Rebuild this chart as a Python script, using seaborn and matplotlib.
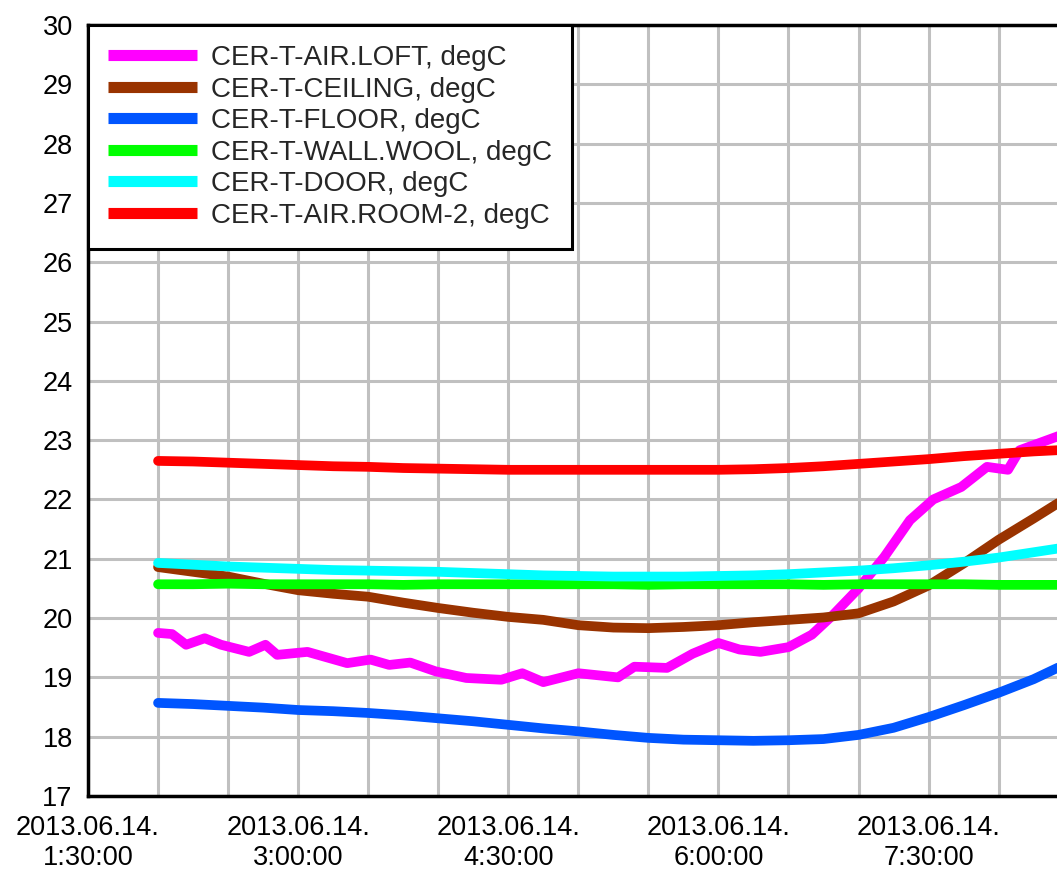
import numpy as np
import pandas as pd
import matplotlib
matplotlib.use("Agg")
import matplotlib.pyplot as plt
import matplotlib.dates as mdates
import seaborn as sns

sns.set_style("white")
plt.rcParams['font.family'] = ['Liberation Sans', 'DejaVu Sans']

DIA = "2013-06-14 "

# Tiempos comunes (cada 15 min)
horas = ["2:00", "2:15", "2:30", "2:45", "3:00", "3:15", "3:30", "3:45", "4:00",
         "4:15", "4:30", "4:45", "5:00", "5:15", "5:30", "5:45", "6:00", "6:15",
         "6:30", "6:45", "7:00", "7:15", "7:30", "7:45", "8:00", "8:15", "8:30"]

techo = [20.86, 20.78, 20.70, 20.58, 20.47, 20.41, 20.36, 20.26, 20.17,
         20.09, 20.02, 19.97, 19.88, 19.84, 19.83, 19.85, 19.88, 19.93,
         19.97, 20.01, 20.08, 20.28, 20.55, 20.92, 21.32, 21.68, 22.05]
suelo = [18.57, 18.55, 18.52, 18.49, 18.45, 18.43, 18.40, 18.36, 18.31,
         18.26, 18.20, 18.14, 18.09, 18.03, 17.98, 17.95, 17.94, 17.93,
         17.94, 17.96, 18.03, 18.15, 18.33, 18.53, 18.74, 18.97, 19.25]
pared = [20.57, 20.57, 20.58, 20.57, 20.57, 20.57, 20.57, 20.56, 20.57,
         20.57, 20.57, 20.57, 20.57, 20.57, 20.56, 20.57, 20.57, 20.57,
         20.57, 20.56, 20.57, 20.57, 20.57, 20.57, 20.56, 20.56, 20.56]
puerta = [20.93, 20.90, 20.87, 20.85, 20.83, 20.81, 20.80, 20.79, 20.78,
          20.76, 20.74, 20.72, 20.71, 20.70, 20.70, 20.70, 20.71, 20.72,
          20.74, 20.77, 20.80, 20.84, 20.89, 20.95, 21.02, 21.11, 21.20]
sala = [22.65, 22.64, 22.62, 22.60, 22.58, 22.56, 22.55, 22.53, 22.52,
        22.51, 22.50, 22.50, 22.50, 22.50, 22.50, 22.50, 22.50, 22.51,
        22.53, 22.56, 22.60, 22.64, 22.68, 22.73, 22.77, 22.81, 22.84]

# El desván tiene más oscilaciones
horas_desvan = ["2:00", "2:06", "2:12", "2:20", "2:27", "2:39", "2:46", "2:51",
                "3:04", "3:21", "3:31", "3:39", "3:48", "3:59", "4:12", "4:27",
                "4:36", "4:45", "5:00", "5:17", "5:24", "5:38", "5:49", "6:00",
                "6:09", "6:18", "6:30", "6:40", "6:49", "7:00", "7:11", "7:22",
                "7:32", "7:44", "7:55", "8:04", "8:09", "8:25", "8:30"]
desvan = [19.75, 19.73, 19.55, 19.66, 19.55, 19.43, 19.55, 19.38,
          19.43, 19.24, 19.30, 19.21, 19.25, 19.10, 18.99, 18.96,
          19.07, 18.92, 19.07, 19.00, 19.18, 19.16, 19.40, 19.58,
          19.47, 19.43, 19.51, 19.72, 20.05, 20.50, 21.03, 21.65,
          22.00, 22.21, 22.55, 22.50, 22.83, 23.06, 23.15]

series = [
    ("CER-T-AIR.LOFT, degC", horas_desvan, desvan, "#ff00ff"),
    ("CER-T-CEILING, degC", horas, techo, "#993300"),
    ("CER-T-FLOOR, degC", horas, suelo, "#0055ff"),
    ("CER-T-WALL.WOOL, degC", horas, pared, "#00ff00"),
    ("CER-T-DOOR, degC", horas, puerta, "#00ffff"),
    ("CER-T-AIR.ROOM-2, degC", horas, sala, "#ff0000"),
]


def a_fecha(lista):
    return pd.to_datetime([DIA + h for h in lista])


def etiqueta(x, pos):
    d = mdates.num2date(x)
    return f"{d:%Y.%m.%d.}\n{d.hour}:{d:%M:%S}"


fig = plt.figure(figsize=(10.57, 8.71), dpi=100)
ax = fig.add_axes([88 / 1057, 75 / 871, 969 / 1057, 771 / 871])

for nombre, hh, valores, color in series:
    sns.lineplot(x=a_fecha(hh), y=valores, color=color, lw=7, label=nombre, ax=ax)

ax.set_xlim(pd.Timestamp(DIA + "1:30"), pd.Timestamp(DIA + "8:25"))
ax.set_ylim(17, 30)
ax.set_yticks(range(17, 31))

# etiquetas cada hora y media, rejilla cada media hora
horas_tick = pd.to_datetime([DIA + h for h in ["1:30", "3:00", "4:30", "6:00", "7:30"]])
ax.set_xticks(mdates.date2num(horas_tick))
ax.xaxis.set_major_formatter(plt.FuncFormatter(etiqueta))
ax.xaxis.set_minor_locator(mdates.MinuteLocator(byminute=[0, 30]))

ax.grid(True, which="both", color="#c0c0c0", lw=2.2)
ax.set_axisbelow(True)
ax.tick_params(axis="both", which="both", length=0, colors="black")
ax.tick_params(axis="y", pad=11, labelsize=19.5)
ax.tick_params(axis="x", pad=14, labelsize=19.5)
for t in ax.get_xticklabels():
    t.set_linespacing(1.2)
ax.set_xlabel("")
ax.set_ylabel("")

for lado in ["left", "bottom", "top"]:
    ax.spines[lado].set_color("black")
    ax.spines[lado].set_linewidth(2.5)
ax.spines["right"].set_visible(False)

leg = ax.legend(loc="upper left", bbox_to_anchor=(0, 1), borderaxespad=0,
                fontsize=20, fancybox=False, edgecolor="black", framealpha=1,
                handlelength=3.2, handletextpad=0.5, labelspacing=0.2,
                borderpad=0.72)
leg.get_frame().set_linewidth(2.2)
for h in leg.get_lines():
    h.set_linewidth(8)
    h.set_solid_capstyle("butt")

fig.savefig("out.png", dpi=100)
